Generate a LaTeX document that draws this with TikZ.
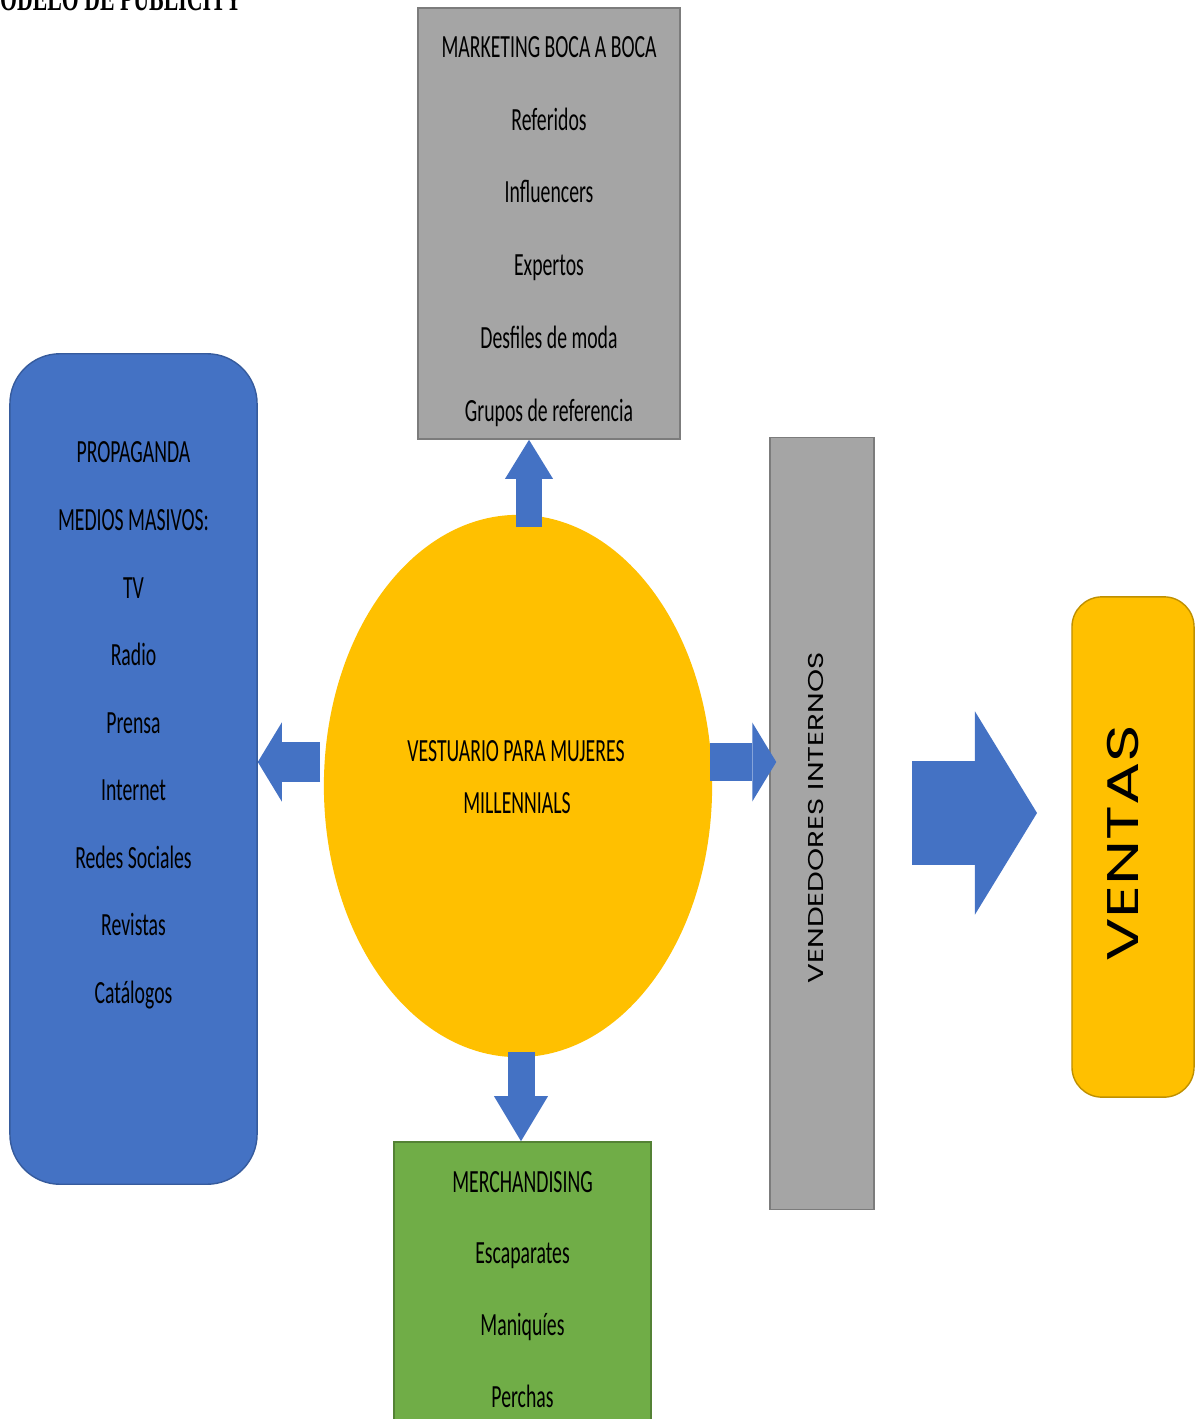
\documentclass[tikz,border=0pt]{standalone}
\usepackage{fontspec}
\usetikzlibrary{shapes.geometric,arrows.meta}
\newfontfamily\calib[FakeStretch=0.61]{Carlito}
\newfontfamily\titlefont[FakeStretch=0.62]{Liberation Serif}
\newfontfamily\gothic[FakeStretch=1.37]{Poppins}
\newfontfamily\gothicwide[FakeStretch=1.45]{Poppins}
\definecolor{azul}{HTML}{4472C4}
\definecolor{amarillo}{HTML}{FFC000}
\definecolor{gris}{HTML}{A5A5A5}
\definecolor{verde}{HTML}{70AD47}
\tikzset{
  txt/.style={font=\calib\fontsize{9.2}{11}\selectfont, anchor=base, inner sep=0pt},
  titletxt/.style={font=\titlefont\bfseries\fontsize{10}{12}\selectfont, inner sep=0pt},
  graybox/.style={draw=gris!75!black, fill=gris, line width=0.4pt, inner sep=0pt},
  bluebox/.style={draw=azul!80!black, fill=azul, line width=0.4pt, rounded corners=0.5cm, inner sep=0pt},
  greenbox/.style={draw=verde!75!black, fill=verde, line width=0.4pt, inner sep=0pt},
  yellowbox/.style={draw=amarillo!75!black, fill=amarillo, line width=0.4pt, rounded corners=0.3cm, inner sep=0pt},
  blockarrow/.style={draw=azul, line cap=butt}
}
\begin{document}
\begin{tikzpicture}[x=0.01cm,y=-0.01cm]
    \clip (0,0) rectangle (1195,1419);
    \node[titletxt, anchor=base east] (title) at (242,11) {MODELO DE PUBLICITY};

    % cajas
    \node[graybox, minimum width=2.62cm, minimum height=4.31cm] (mkt) at (549,223.5) {};
    \node[bluebox, minimum width=2.47cm, minimum height=8.30cm] (prop) at (133.5,769) {};
    \node[ellipse, fill=amarillo, minimum width=3.88cm, minimum height=5.42cm, inner sep=0pt] (vest) at (518,786) {};
    \node[graybox, minimum width=1.04cm, minimum height=7.71cm] (vend) at (822,823.5) {};
    \node[yellowbox, minimum width=1.22cm, minimum height=5.00cm] (ventas) at (1133,847) {};
    \node[greenbox, minimum width=2.57cm, minimum height=3.20cm] (merch) at (522.5,1302) {};

    % boca a boca
    \node[txt] (mkt1) at (549,58) {MARKETING BOCA A BOCA};
    \node[txt] (mkt2) at (549,131) {Referidos};
    \node[txt] (mkt3) at (549,203) {Influencers};
    \node[txt] (mkt4) at (549,276) {Expertos};
    \node[txt] (mkt5) at (549,349) {Desfiles de moda};
    \node[txt] (mkt6) at (549,422) {Grupos de referencia};

    % propaganda
    \node[txt] (prop1) at (133.5,463) {PROPAGANDA};
    \node[txt] (prop2) at (133.5,530) {MEDIOS MASIVOS:};
    \node[txt] (prop3) at (133.5,598) {TV};
    \node[txt] (prop4) at (133.5,665) {Radio};
    \node[txt] (prop5) at (133.5,733) {Prensa};
    \node[txt] (prop6) at (133.5,800) {Internet};
    \node[txt] (prop7) at (133.5,868) {Redes Sociales};
    \node[txt] (prop8) at (133.5,935) {Revistas};
    \node[txt] (prop9) at (133.5,1003) {Catálogos};

    \node[txt] (vest1) at (516,761) {VESTUARIO PARA MUJERES};
    \node[txt] (vest2) at (517,813) {MILLENNIALS};

    % merchandising
    \node[txt] (merch1) at (522.5,1192) {MERCHANDISING};
    \node[txt] (merch2) at (522.5,1263) {Escaparates};
    \node[txt] (merch3) at (522.5,1335) {Maniquíes};
    \node[txt] (merch4) at (522.5,1407) {Perchas};

    \node[font=\gothic\fontsize{6.1}{7}\selectfont, rotate=90, anchor=base, inner sep=0pt] (vendtxt) at (823,818) {VENDEDORES INTERNOS};
    \node[font=\gothicwide\fontsize{12.6}{14}\selectfont, rotate=90, anchor=base, inner sep=0pt] (ventastxt) at (1138,843) {VENTAS};

    % flechas
    \coordinate (up0) at (529,527);
    \coordinate (dn0) at (521,1052);
    \coordinate (lf0) at (320,762);
    \coordinate (rt0) at (710,762);
    \coordinate (big0) at (912,813);
    \coordinate (big1) at (1037,813);
    \draw[blockarrow, line width=0.26cm, -{Triangle[length=0.39cm, width=0.48cm, line width=0pt]}] (up0) -- (up0 |- mkt.south);
    \draw[blockarrow, line width=0.27cm, -{Triangle[length=0.45cm, width=0.54cm, line width=0pt]}] (dn0) -- (dn0 |- merch.north);
    \draw[blockarrow, line width=0.40cm, -{Triangle[length=0.24cm, width=0.79cm, line width=0pt]}] (lf0) -- (lf0 -| prop.east);
    \draw[blockarrow, line width=0.38cm, shorten >=-0.07cm, -{Triangle[length=0.24cm, width=0.79cm, line width=0pt]}] (rt0) -- (rt0 -| vend.west);
    \draw[blockarrow, line width=1.03cm, -{Triangle[length=0.62cm, width=2.03cm, line width=0pt]}] (big0) -- (big1);
\end{tikzpicture}
\end{document}
